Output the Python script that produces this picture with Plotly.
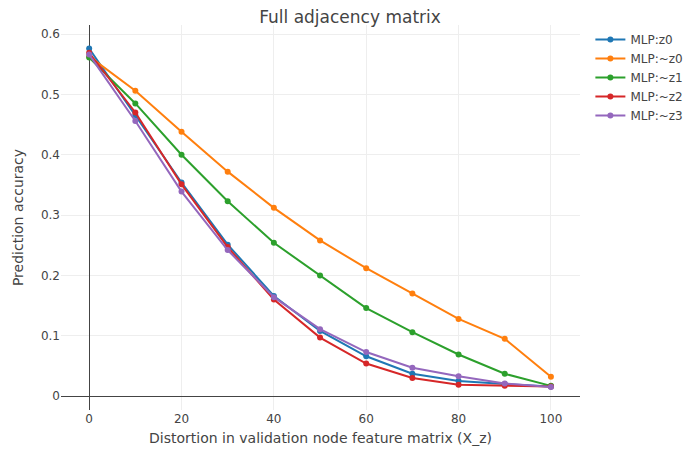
import plotly.graph_objects as go

distortion = [0, 10, 20, 30, 40, 50, 60, 70, 80, 90, 100]

mlp_z0 = [0.576, 0.466, 0.354, 0.251, 0.166, 0.108, 0.066, 0.037, 0.025, 0.020, 0.016]
mlp_nz0 = [0.563, 0.506, 0.438, 0.372, 0.312, 0.258, 0.212, 0.170, 0.128, 0.095, 0.032]
mlp_nz1 = [0.561, 0.485, 0.400, 0.323, 0.254, 0.200, 0.146, 0.106, 0.069, 0.037, 0.017]
mlp_nz2 = [0.569, 0.470, 0.351, 0.247, 0.160, 0.097, 0.054, 0.030, 0.019, 0.017, 0.016]
mlp_nz3 = [0.566, 0.456, 0.339, 0.242, 0.164, 0.111, 0.073, 0.047, 0.033, 0.021, 0.015]

series = [
    ('MLP:z0', mlp_z0),
    ('MLP:~z0', mlp_nz0),
    ('MLP:~z1', mlp_nz1),
    ('MLP:~z2', mlp_nz2),
    ('MLP:~z3', mlp_nz3),
]

fig = go.Figure()
for name, vals in series:
    fig.add_trace(go.Scatter(x=distortion, y=vals, mode='lines+markers', name=name))

# page has an 8px body margin, so margins are shifted to keep the plot area in place
fig.update_layout(
    template='none',
    width=700, height=450,
    font=dict(family='DejaVu Sans, Verdana, sans-serif', color='#444', size=12),
    title=dict(text='Full adjacency matrix', x=0.4886, xanchor='center',
               y=0.98, yanchor='middle', font=dict(size=17)),
    margin=dict(l=53, r=128, t=17, b=48),
    xaxis=dict(title=dict(text='Distortion in validation node feature matrix (X_z)',
                          font=dict(size=14), standoff=8),
               range=[-6.1, 106.3], dtick=20, zeroline=True, zerolinecolor='#444', gridcolor='#eee'),
    yaxis=dict(title=dict(text='Prediction accuracy', font=dict(size=14)),
               range=[-0.023, 0.615], dtick=0.1, zeroline=True, zerolinecolor='#444', gridcolor='#eee'),
    showlegend=True,
)

fig.write_html('out.html')
